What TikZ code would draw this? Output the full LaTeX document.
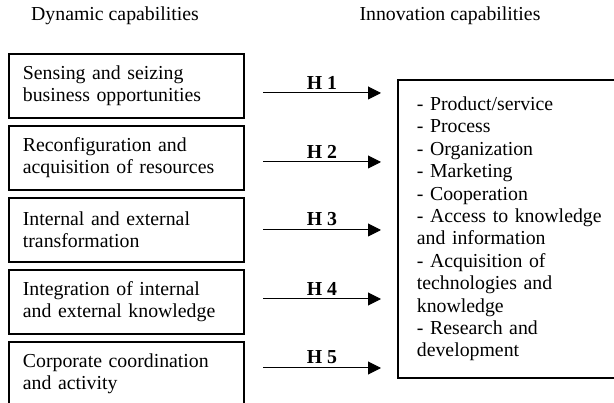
\documentclass[tikz,border=0pt]{standalone}
\usepackage{fontspec}
\setmainfont{Liberation Serif}
\usetikzlibrary{arrows.meta,
                positioning}

\begin{document}
\begin{tikzpicture}[x=1pt,y=1pt,
   font=\fontsize{19.8}{22.4}\selectfont,
   capbox/.style={draw,line width=1.8pt,align=left,inner ysep=0pt},
   dcbox/.style={capbox,text width=207pt,inner xsep=14pt,minimum height=64pt},
   icbox/.style={capbox,text width=200pt,inner xsep=19pt,minimum height=298pt},
   hyp/.style={line width=1pt,-{Triangle[length=13pt,width=13pt]}},
   hlabel/.style={font=\fontsize{19.8}{22.4}\selectfont\bfseries}]
 \useasboundingbox (0,0) rectangle (614,-403);
 \clip (0,0) rectangle (614,-403);
 % headings
 \node[anchor=base] (dctitle) at (115,-21) {Dynamic capabilities};
 \node[anchor=base] (ictitle) at (450,-21) {Innovation capabilities};
 % dynamic capabilities
 \node[dcbox,anchor=north west] (dc1) at (8,-53) {Sensing and seizing\\business opportunities};
 \node[dcbox,below=6.2pt of dc1] (dc2) {Reconfiguration and\\acquisition of resources};
 \node[dcbox,below=6.2pt of dc2] (dc3) {Internal and external\\transformation};
 \node[dcbox,below=6.2pt of dc3] (dc4) {Integration of internal\\and external knowledge};
 \node[dcbox,below=6.2pt of dc4] (dc5) {Corporate coordination\\and activity};
 % innovation capabilities
 \node[icbox,anchor=north west] (ic) at (397,-79)
   {- Product/service\\- Process\\- Organization\\- Marketing\\- Cooperation\\
    - Access to knowledge\\and information\\- Acquisition of\\technologies and\\
    knowledge\\- Research and\\development};
 % hypotheses
 \foreach \y [count=\i] in {93,162,230,299,368}{
   \coordinate (h\i s) at (263,-\y);
   \coordinate (h\i e) at (381,-\y);
   \draw[hyp] (h\i s) -- node[above,hlabel] (hl\i) {H \i} (h\i e);
 }
\end{tikzpicture}
\end{document}
